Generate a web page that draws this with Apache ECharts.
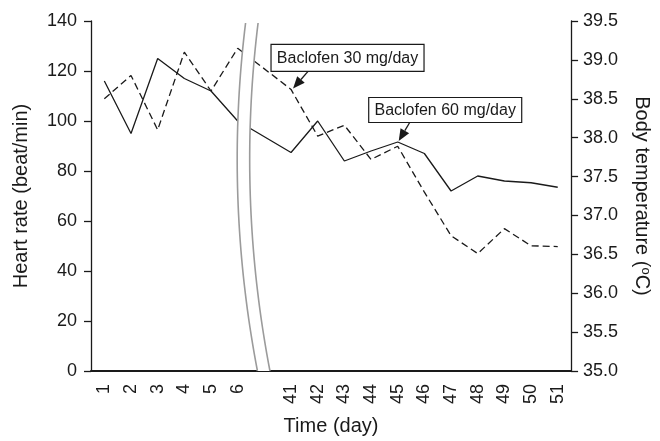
<!DOCTYPE html>
<html><head><meta charset="utf-8">
<script src="https://cdn.jsdelivr.net/npm/echarts@6/dist/echarts.min.js"></script>
<style>html,body{margin:0;padding:0;background:#fff}#c{width:660px;height:441px}</style>
</head><body><div id="c"></div>
<script>
// ---- data ----
const days = ['1','2','3','4','5','6','','41','42','43','44','45','46','47','48','49','50','51'];
const heartRate = [116, 95, 125, 117, 112, 100, null, 87.4, 100, 84, 88, 91.6, 87, 72, 78, 76, 75.3, 73.5];
const bodyTemp = [38.5, 38.8, 38.1, 39.1, 38.6, 39.15, null, 38.62, 38.02, 38.16, 37.72, 37.89, 37.3, 36.74, 36.51, 36.83, 36.61, 36.6];
const hrRange = [0, 140, 20];
const tempRange = [35, 39.5, 0.5];
const annotationTexts = ['Baclofen 30 mg/day', 'Baclofen 60 mg/day'];
const annotationDays = ['41', '45'];
const breakAfter = '6';

(function () {
const FONT = 'Liberation Sans, Arial, Helvetica, sans-serif';
const INK = '#1a1a1a';
const chart = echarts.init(document.getElementById('c'), null, {renderer: 'canvas'});

chart.setOption({
  animation: false,
  backgroundColor: '#fff',
  grid: {left: 91, right: 85, top: 21, bottom: 68, containLabel: false},
  xAxis: {
    type: 'category', data: days, boundaryGap: true,
    name: 'Time (day)', nameLocation: 'middle', nameGap: 45,
    nameTextStyle: {fontFamily: FONT, fontSize: 20, color: INK},
    axisLine: {lineStyle: {color: INK, width: 2}},
    axisTick: {interval: 0, length: 7, lineStyle: {color: INK, width: 1.3}},
    axisLabel: {interval: 0, rotate: 90, margin: 13, fontFamily: FONT, fontSize: 18, color: INK},
    splitLine: {show: false}
  },
  yAxis: [{
    type: 'value', min: hrRange[0], max: hrRange[1], interval: hrRange[2],
    name: 'Heart rate (beat/min)', nameLocation: 'middle', nameGap: 60, nameRotate: 90,
    nameTextStyle: {fontFamily: FONT, fontSize: 20, color: INK},
    axisLine: {show: true, lineStyle: {color: INK, width: 1.3}},
    axisTick: {show: true, length: 7, lineStyle: {color: INK, width: 1.3}},
    axisLabel: {margin: 14, fontFamily: FONT, fontSize: 18, color: INK},
    splitLine: {show: false}
  }, {
    type: 'value', position: 'right', min: tempRange[0], max: tempRange[1], interval: tempRange[2],
    name: 'Body temperature ({sup|o}C)', nameLocation: 'middle', nameGap: 57, nameRotate: -90,
    nameTextStyle: {fontFamily: FONT, fontSize: 20, color: INK,
      rich: {sup: {fontFamily: FONT, fontSize: 13, color: INK, verticalAlign: 'top', lineHeight: 12, padding: [0, 0, 10, 0]}}},
    axisLine: {show: true, lineStyle: {color: INK, width: 1.3}},
    axisTick: {show: true, length: 7, lineStyle: {color: INK, width: 1.3}},
    axisLabel: {margin: 12, fontFamily: FONT, fontSize: 18, color: INK, formatter: v => v.toFixed(1)},
    splitLine: {show: false}
  }],
  series: [{
    name: 'Heart rate', type: 'line', yAxisIndex: 0, data: heartRate, connectNulls: true,
    symbol: 'none', lineStyle: {color: INK, width: 1.3, type: 'solid'}, z: 3
  }, {
    name: 'Body temperature', type: 'line', yAxisIndex: 1, data: bodyTemp, connectNulls: true,
    symbol: 'none', lineStyle: {color: INK, width: 1.3, type: [7, 4]}, z: 3
  }]
});

// ---- decorations positioned through the chart's own scales ----
const px = (axisIdx, cat, val) => chart.convertToPixel({xAxisIndex: 0, yAxisIndex: axisIdx}, [cat, val]);
const yTop = px(0, breakAfter, hrRange[1])[1];
const yBot = px(0, breakAfter, hrRange[0])[1];
const vx = px(0, breakAfter, 0)[0] - 0.5;
const hgt = yBot - yTop;
const yv = yTop + 0.395 * hgt;
const k = 0.000452;
const off = 12.5;
const leftPts = [], rightPts = [];
for (let i = 0; i <= 40; i++) {
  const y = yTop + 2 + (hgt - 2) * i / 40;
  const x = vx + k * (y - yv) * (y - yv);
  leftPts.push([x, y]);
  rightPts.push([x + off, y]);
}
const graphics = [];
graphics.push({type: 'polygon', z: 50, silent: true,
  shape: {points: leftPts.concat(rightPts.slice().reverse())}, style: {fill: '#fff', stroke: null}});
graphics.push({type: 'polyline', z: 51, silent: true, shape: {points: leftPts}, style: {stroke: '#9b9b9b', lineWidth: 1.6, fill: null}});
graphics.push({type: 'polyline', z: 51, silent: true, shape: {points: rightPts}, style: {stroke: '#9b9b9b', lineWidth: 1.6, fill: null}});

function arrow(tail, tip) {
  const dx = tip[0] - tail[0], dy = tip[1] - tail[1];
  const L = Math.hypot(dx, dy), ux = dx / L, uy = dy / L;
  const hl = 12, hw = 5;
  const bx = tip[0] - ux * hl, by = tip[1] - uy * hl;
  graphics.push({type: 'line', z: 60, silent: true,
    shape: {x1: tail[0], y1: tail[1], x2: bx, y2: by}, style: {stroke: INK, lineWidth: 1.3}});
  graphics.push({type: 'polygon', z: 60, silent: true,
    shape: {points: [[tip[0], tip[1]], [bx - uy * hw, by + ux * hw], [bx + uy * hw, by - ux * hw]]},
    style: {fill: INK, stroke: null}});
}
function box(x, y, w, hh, text) {
  graphics.push({type: 'rect', z: 60, silent: true, shape: {x: x, y: y, width: w, height: hh},
    style: {fill: '#fff', stroke: INK, lineWidth: 1.2}});
  graphics.push({type: 'text', z: 61, silent: true,
    style: {text: text, x: x + w / 2, y: y + hh / 2 + 1, align: 'center', verticalAlign: 'middle',
      font: '16px ' + FONT, fill: INK}});
}
const p1 = px(1, annotationDays[0], bodyTemp[days.indexOf(annotationDays[0])]);
box(p1[0] - 20, p1[1] - 45, 153, 27, annotationTexts[0]);
arrow([p1[0] + 17, p1[1] - 18], [p1[0] + 2, p1[1] - 1]);
const p2 = px(0, annotationDays[1], heartRate[days.indexOf(annotationDays[1])]);
box(p2[0] - 29, p2[1] - 44.5, 153, 25, annotationTexts[1]);
arrow([p2[0] + 12, p2[1] - 19.5], [p2[0] + 1, p2[1] - 1]);

chart.setOption({graphic: graphics});
})();
</script>
</body></html>
